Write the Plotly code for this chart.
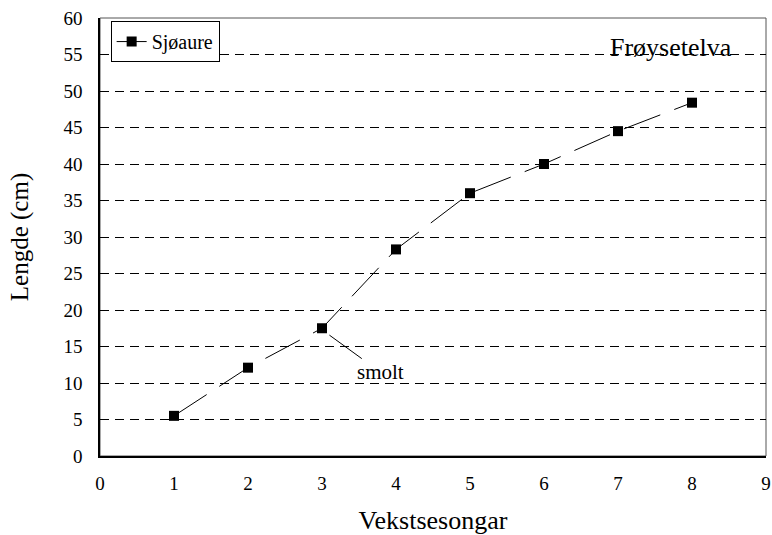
import plotly.graph_objects as go

seasons = [1, 2, 3, 4, 5, 6, 7, 8]
length_cm = [5.5, 12.1, 17.5, 28.3, 36.0, 40.0, 44.5, 48.4]
series_name = "Sjøaure"
x_ticks = list(range(0, 10))
y_ticks = list(range(0, 65, 5))

FONT = "Liberation Serif"

fig = go.Figure()
fig.add_trace(go.Scatter(
    x=seasons, y=length_cm, name=series_name, mode="lines+markers",
    line=dict(color="black", width=1, dash="39px,15px"),
    marker=dict(symbol="square", size=10, color="black"),
    showlegend=True,
))

fig.update_layout(
    width=772, height=535,
    margin=dict(l=100, r=6, t=18, b=79),
    paper_bgcolor="white", plot_bgcolor="white",
    font=dict(family=FONT, color="black", size=19),
    showlegend=True,
    legend=dict(x=0.016, y=0.993, xanchor="left", yanchor="top",
                bordercolor="black", borderwidth=1, bgcolor="white",
                font=dict(size=20, family=FONT, color="black"), itemwidth=30,
                tracegroupgap=0),
    xaxis=dict(range=[0, 9], tickvals=x_ticks, ticks="", showgrid=False,
               showline=True, linecolor="black", linewidth=1.5,
               zeroline=False, ticklabelstandoff=9, automargin=False,
               ticklabeloverflow="allow",
               tickfont=dict(family=FONT, size=19, color="black"),
               title=dict(text="Vekstsesongar", font=dict(size=26, family=FONT), standoff=18)),
    yaxis=dict(range=[0, 60], tickvals=y_ticks, ticks="inside", ticklen=7,
               tickcolor="black", showgrid=True, gridcolor="black",
               gridwidth=1, griddash="9px,6px",
               showline=True, linecolor="black", linewidth=1.5,
               zeroline=False, ticklabelstandoff=12, automargin=False,
               ticklabeloverflow="allow",
               tickfont=dict(family=FONT, size=19, color="black"),
               title=dict(text="Lengde (cm)", font=dict(size=25, family=FONT), standoff=28)),
    shapes=[dict(type="rect", xref="paper", yref="paper", x0=0, x1=1, y0=0, y1=1,
                 line=dict(color="#555", width=1), layer="below")],
    annotations=[
        dict(x=7.72, y=55.9, xref="x", yref="y", text="Frøysetelva",
             showarrow=False, font=dict(size=26, family=FONT)),
        dict(x=3.10, y=16.56, xref="x", yref="y", text="smolt",
             showarrow=True, arrowhead=0, arrowwidth=1, arrowcolor="black",
             ax=51, ay=37, font=dict(size=21, family=FONT)),
    ],
)

fig.write_html("out.html", config={"displayModeBar": False},
               post_script="document.body.style.margin='0px';document.body.style.overflow='hidden';")
